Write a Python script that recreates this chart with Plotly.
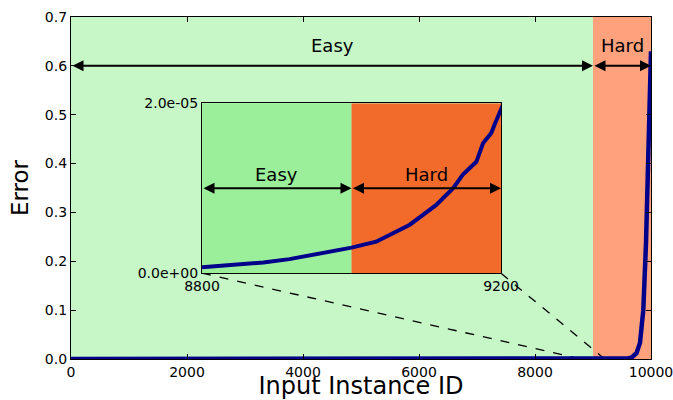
import plotly.graph_objects as go

# ---- data ----
instance_ids = [0, 1000, 2000, 3000, 4000, 5000, 6000, 7000, 8000, 8500, 8800,
                8882, 8917, 8962, 9000, 9033, 9051, 9078, 9113, 9136, 9149, 9167,
                9176, 9187, 9192, 9198, 9200, 9300, 9400, 9500, 9600, 9667, 9750,
                9810, 9867, 9914, 9943, 9971, 9983, 10000]
errors = [0.0, 1e-8, 2e-8, 4e-8, 7e-8, 1e-7, 1.5e-7, 2.5e-7, 4e-7, 5.5e-7, 7e-7,
          1.25e-6, 1.65e-6, 2.35e-6, 3.0e-6, 3.7e-6, 4.5e-6, 5.7e-6, 8.0e-6, 1.0e-5,
          1.16e-5, 1.31e-5, 1.53e-5, 1.65e-5, 1.76e-5, 1.88e-5, 1.92e-5, 4e-5, 1e-4,
          3e-4, 1e-3, 3e-3, 0.012, 0.033, 0.1, 0.237, 0.373, 0.51, 0.6, 0.63]

main_xticks = [0, 2000, 4000, 6000, 8000, 10000]
main_yticks = [0.0, 0.1, 0.2, 0.3, 0.4, 0.5, 0.6, 0.7]
main_yticklabels = ["0.0", "0.1", "0.2", "0.3", "0.4", "0.5", "0.6", "0.7"]
main_xrange = [0, 10000]
main_yrange = [0, 0.7]
easy_hard_split = 9000
main_arrow_y = 0.6

inset_xrange = [8800, 9200]
inset_yrange = [0, 2e-5]
inset_xticks = [8800, 9200]
inset_yticks = [0, 2e-5]
inset_yticklabels = ["0.0e+00", "2.0e-05"]
inset_split = 9000
inset_arrow_y = 1e-5

region_labels = ["Easy", "Hard"]

# ---- styling ----
FONT = "DejaVu Sans"
LINE_COLOR = "#00008b"
MAIN_EASY = "#c7f6c7"
MAIN_HARD = "#fda27c"
INSET_EASY = "#9bef9b"
INSET_HARD = "#f36b2b"

inset_dom_x = [0.2259, 0.7414]
inset_dom_y = [0.251, 0.748]

fig = go.Figure()

# inset background regions (filled traces so they sit inside the inset subplot)
fig.add_trace(go.Scatter(
    x=[inset_xrange[0], inset_split, inset_split, inset_xrange[0], inset_xrange[0]],
    y=[inset_yrange[0], inset_yrange[0], inset_yrange[1], inset_yrange[1], inset_yrange[0]],
    fill="toself", fillcolor=INSET_EASY, mode="none", xaxis="x2", yaxis="y2",
    hoverinfo="skip", showlegend=False))
fig.add_trace(go.Scatter(
    x=[inset_split, inset_xrange[1], inset_xrange[1], inset_split, inset_split],
    y=[inset_yrange[0], inset_yrange[0], inset_yrange[1], inset_yrange[1], inset_yrange[0]],
    fill="toself", fillcolor=INSET_HARD, mode="none", xaxis="x2", yaxis="y2",
    hoverinfo="skip", showlegend=False))

fig.add_trace(go.Scatter(x=instance_ids, y=errors, mode="lines",
                         line=dict(color=LINE_COLOR, width=4.5),
                         xaxis="x", yaxis="y", showlegend=False))
fig.add_trace(go.Scatter(x=instance_ids, y=errors, mode="lines",
                         line=dict(color=LINE_COLOR, width=4),
                         xaxis="x2", yaxis="y2", showlegend=False))

shapes = []
shapes.append(dict(type="rect", xref="x", yref="y domain", x0=main_xrange[0], x1=easy_hard_split,
                   y0=0, y1=1, fillcolor=MAIN_EASY, line_width=0, layer="below"))
shapes.append(dict(type="rect", xref="x", yref="y domain", x0=easy_hard_split, x1=main_xrange[1],
                   y0=0, y1=1, fillcolor=MAIN_HARD, line_width=0, layer="below"))

def paper_to_main_x(px):
    return main_xrange[0] + px * (main_xrange[1] - main_xrange[0])

def paper_to_main_y(py):
    return main_yrange[0] + py * (main_yrange[1] - main_yrange[0])

shapes.append(dict(type="line", xref="x", yref="y",
                   x0=paper_to_main_x(inset_dom_x[0]), y0=paper_to_main_y(inset_dom_y[0]),
                   x1=inset_xrange[0], y1=main_yrange[0],
                   line=dict(color="black", width=1.3, dash="dash"), layer="below"))
shapes.append(dict(type="line", xref="x", yref="y",
                   x0=paper_to_main_x(inset_dom_x[1]), y0=paper_to_main_y(inset_dom_y[0]),
                   x1=inset_xrange[1], y1=main_yrange[0],
                   line=dict(color="black", width=1.3, dash="dash"), layer="below"))

annotations = []

def double_arrow(xa, ya, x0, x1, y):
    return dict(x=x1, y=y, ax=x0, ay=y, xref=xa, yref=ya, axref=xa, ayref=ya,
                text="", showarrow=True, arrowhead=2, startarrowhead=2,
                arrowside="end+start", arrowsize=1.1, startarrowsize=1.1,
                arrowwidth=2, arrowcolor="black")

annotations.append(double_arrow("x", "y", main_xrange[0], easy_hard_split, main_arrow_y))
annotations.append(double_arrow("x", "y", easy_hard_split, main_xrange[1], main_arrow_y))
annotations.append(double_arrow("x2", "y2", inset_xrange[0], inset_split, inset_arrow_y))
annotations.append(double_arrow("x2", "y2", inset_split, inset_xrange[1], inset_arrow_y))

lab_font = dict(family=FONT, size=18, color="black")
annotations.append(dict(x=(main_xrange[0] + easy_hard_split) / 2, y=main_arrow_y, xref="x", yref="y",
                        text=region_labels[0], showarrow=False, yanchor="bottom", yshift=8, font=lab_font))
annotations.append(dict(x=(easy_hard_split + main_xrange[1]) / 2, y=main_arrow_y, xref="x", yref="y",
                        text=region_labels[1], showarrow=False, yanchor="bottom", yshift=8, font=lab_font))
annotations.append(dict(x=(inset_xrange[0] + inset_split) / 2, y=inset_arrow_y, xref="x2", yref="y2",
                        text=region_labels[0], showarrow=False, yanchor="bottom", yshift=1, font=lab_font))
annotations.append(dict(x=(inset_split + inset_xrange[1]) / 2, y=inset_arrow_y, xref="x2", yref="y2",
                        text=region_labels[1], showarrow=False, yanchor="bottom", yshift=1, font=lab_font))

tick_font = dict(family=FONT, size=14, color="black")
axis_common = dict(showgrid=False, zeroline=False, showline=True, linecolor="black",
                   linewidth=1.3, mirror="ticks", ticks="inside", ticklen=5,
                   tickcolor="black", tickwidth=1, tickfont=tick_font,
                   ticklabeloverflow="allow")

fig.update_layout(
    width=673, height=400,
    margin=dict(l=71, r=22, t=17, b=41),
    paper_bgcolor="white", plot_bgcolor="rgba(0,0,0,0)",
    showlegend=False,
    font=dict(family=FONT, color="black"),
    xaxis=dict(range=main_xrange, tickvals=main_xticks, ticktext=[str(v) for v in main_xticks],
               title=dict(text="Input Instance ID", font=dict(family=FONT, size=24), standoff=6),
               automargin=False, **axis_common),
    yaxis=dict(range=main_yrange, tickvals=main_yticks, ticktext=main_yticklabels,
               title=dict(text="Error", font=dict(family=FONT, size=23), standoff=9),
               automargin=False, **axis_common),
    xaxis2=dict(domain=inset_dom_x, anchor="y2", range=inset_xrange, tickvals=inset_xticks,
                ticktext=[str(v) for v in inset_xticks], automargin=False, **axis_common),
    yaxis2=dict(domain=inset_dom_y, anchor="x2", range=inset_yrange, tickvals=inset_yticks,
                ticktext=inset_yticklabels, automargin=False, **axis_common),
    shapes=shapes,
    annotations=annotations,
)

fig.write_html("out.html", config={"displayModeBar": False},
               post_script="document.body.style.margin='0';")
